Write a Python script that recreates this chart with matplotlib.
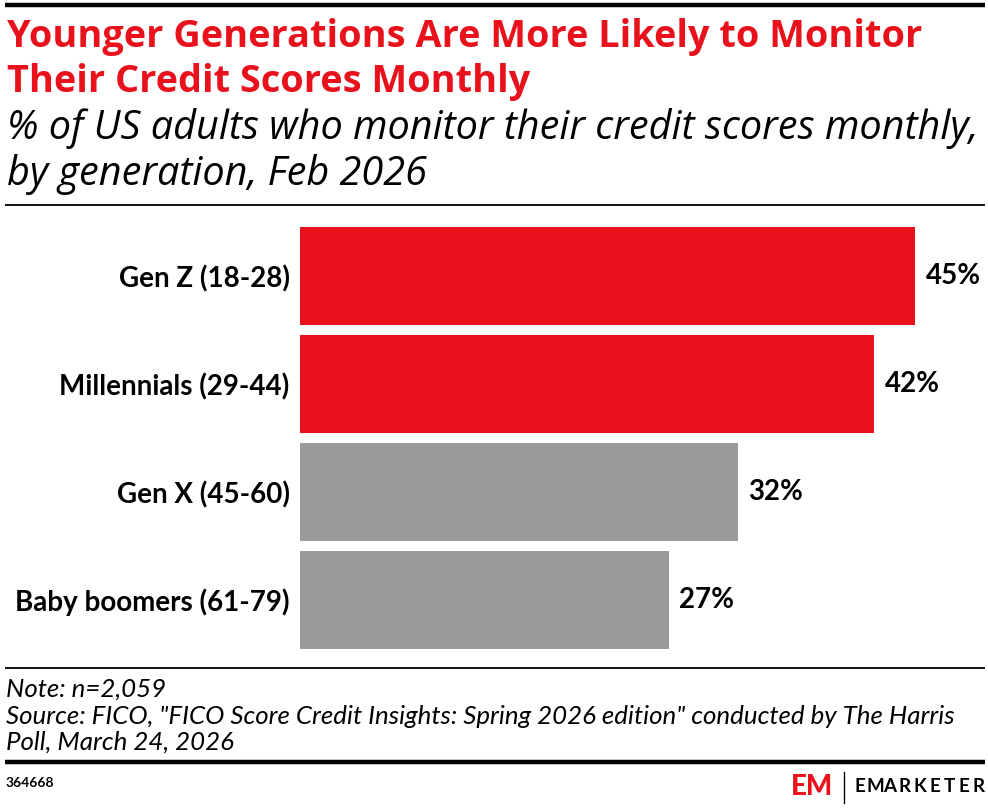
import matplotlib.pyplot as plt
from matplotlib.lines import Line2D

categories = ['Gen Z (18-28)', 'Millennials (29-44)', 'Gen X (45-60)', 'Baby boomers (61-79)']
values = [45, 42, 32, 27]
bar_colors = ['#E8111C', '#E8111C', '#9B9B9B', '#9B9B9B']

title_lines = ['Younger Generations Are More Likely to Monitor', 'Their Credit Scores Monthly']
subtitle_lines = ['% of US adults who monitor their credit scores monthly,', 'by generation, Feb 2026']
note = 'Note: n=2,059'
source_lines = ['Source: FICO, "FICO Score Credit Insights: Spring 2026 edition" conducted by The Harris',
                'Poll, March 24, 2026']
chart_id = '364668'

W, H = 988, 808
fig = plt.figure(figsize=(W / 100, H / 100), dpi=100)
plt.rcParams['font.family'] = ['Lato', 'DejaVu Sans']
renderer = fig.canvas.get_renderer()


def fx(px):
    return px / W


def fy(py):
    return 1 - py / H


def hline(y, lw, x0=5, x1=985):
    fig.add_artist(Line2D([fx(x0), fx(x1)], [fy(y), fy(y)], color='black', linewidth=lw,
                          transform=fig.transFigure, solid_capstyle='butt'))


def fit_size(s, width, size=20, **kw):
    # font size that makes s about `width` pixels wide
    t = fig.text(0, 0, s, fontsize=size, **kw)
    w = t.get_window_extent(renderer).width
    t.remove()
    return size * width / w


# rules
hline(5, 3.2)
hline(205, 1.3)
hline(668, 1.3)
hline(762, 3.2)

# titles
tkw = dict(family=['Open Sans', 'Lato'], fontweight='bold')
ts = fit_size(title_lines[0], 914, **tkw)
for line, base in zip(title_lines, [47, 92]):
    fig.text(fx(7), fy(base), line, color='#E8111C', fontsize=ts, va='baseline', ha='left', **tkw)

skw = dict(family=['Open Sans', 'Lato'], style='italic')
ss = fit_size(subtitle_lines[0], 972, **skw)
for line, base in zip(subtitle_lines, [139, 185]):
    fig.text(fx(7), fy(base), line, color='black', fontsize=ss, va='baseline', ha='left', **skw)

# bars
ax = fig.add_axes([fx(300), fy(654), fx(985) - fx(300), (654 - 222) / H])
y = list(range(len(categories)))
ax.barh(y, values, color=bar_colors, height=0.907)
ax.set_ylim(len(categories) - 0.5, -0.5)
ax.set_xlim(0, 50.1)
ax.set_yticks(y)
ax.set_yticklabels(categories, fontsize=20, fontweight='bold')
ax.tick_params(axis='y', length=0, pad=7.5)
ax.set_xticks([])
for s in ax.spines.values():
    s.set_visible(False)
for yi, v in zip(y, values):
    ax.text(v + 0.75, yi, f'{v}%', va='center', ha='left', fontsize=20, fontweight='bold')

# footer
fkw = dict(fontsize=18.6, style='italic', va='baseline', ha='left')
fig.text(fx(6), fy(697), note, **fkw)
for line, base in zip(source_lines, [724, 750]):
    fig.text(fx(6), fy(base), line, **fkw)
fig.text(fx(6), fy(783), chart_id, fontsize=10, fontweight='bold', va='center', ha='left')

# logo
fig.text(fx(791), fy(787), 'EM', color='#E8111C', fontsize=20, fontweight='black',
         va='center', ha='left')
fig.add_artist(Line2D([fx(844), fx(844)], [fy(772), fy(803)], color='black', linewidth=1,
                      transform=fig.transFigure))
brand = 'EMARKETER'
for i, ch in enumerate(brand):
    xc = 860 + i * (979 - 860) / (len(brand) - 1)
    fig.text(fx(xc), fy(787), ch, fontsize=13.5, fontweight='bold', va='center', ha='center')

fig.savefig('out.png', dpi=100)
